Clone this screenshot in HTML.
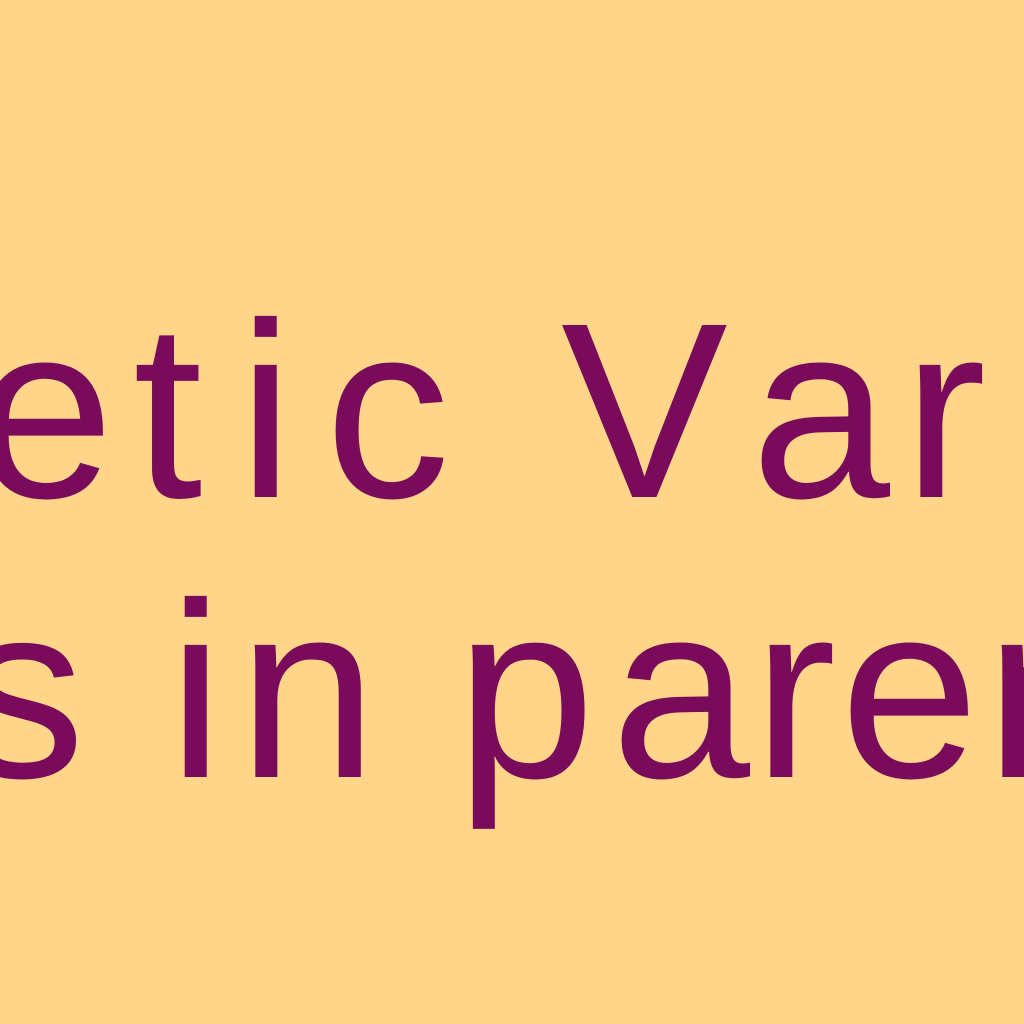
<!DOCTYPE html>
<html><head><meta charset="utf-8"><style>
html,body{margin:0;padding:0}
body{width:1024px;height:1024px;background:#FFD58A;position:relative;overflow:hidden}
span{position:absolute;font-family:"Liberation Sans",sans-serif;font-size:250px;line-height:1;color:#7A0A5A;white-space:pre}
.l1{top:286px}.l2{top:566px}
</style></head><body>
<div>
<span class="l1" style="left:-25px">e</span>
<span class="l1" style="left:133px">t</span>
<span class="l1" style="left:238px">i</span>
<span class="l1" style="left:325px">c</span>
<span class="l1" style="left:561px">V</span>
<span class="l1" style="left:751px">a</span>
<span class="l1" style="left:903px">r</span>
</div>
<div>
<span class="l2" style="left:-40px">s</span>
<span class="l2" style="left:168px">i</span>
<span class="l2" style="left:238px">n</span>
<span class="l2" style="left:456px">p</span>
<span class="l2" style="left:611px">a</span>
<span class="l2" style="left:753px">r</span>
<span class="l2" style="left:840px">e</span>
<span class="l2" style="left:985px">n</span>
</div>
</body></html>
